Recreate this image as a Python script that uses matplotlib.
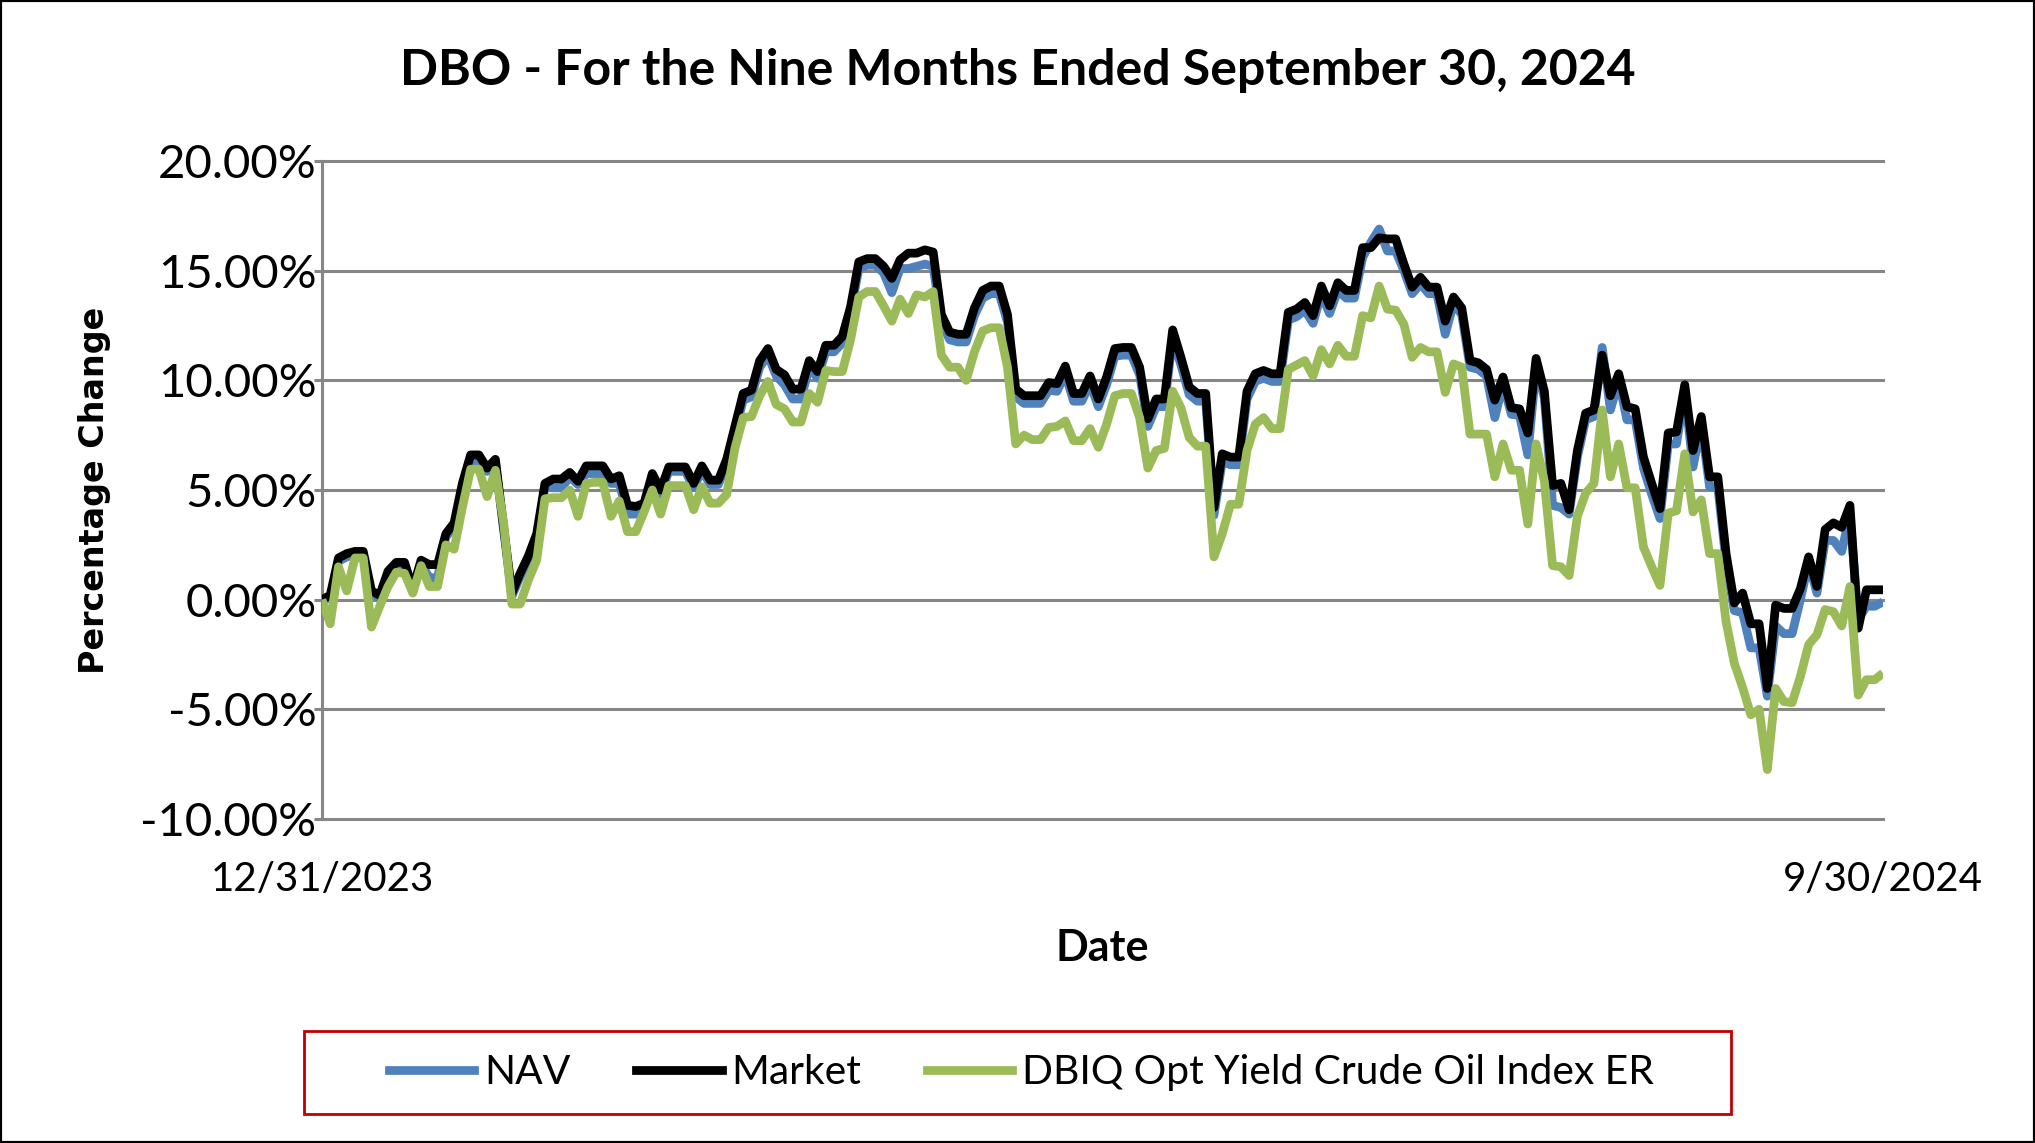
import matplotlib.pyplot as plt
import numpy as np
from matplotlib.patches import Rectangle
from matplotlib.lines import Line2D
from matplotlib.ticker import FuncFormatter

# Percentage change since 12/31/2023, one value per trading day
nav = [0.0, 0.05, 1.75, 1.95, 2.05, 2.05, 0.25, 0.05, 1.15, 1.5,
       1.5, 0.35, 1.65, 1.0, 1.0, 2.85, 3.35, 5.15, 6.25, 6.25,
       5.85, 6.25, 3.15, 0.15, 1.05, 1.85, 2.85, 5.15, 5.1, 5.1,
       5.6, 5.25, 5.75, 5.75, 5.75, 5.3, 5.3, 3.9, 3.9, 4.2,
       5.55, 4.8, 5.85, 5.85, 5.85, 5.1, 5.9, 5.25, 5.25, 6.2,
       7.6, 9.1, 9.25, 10.6, 11.15, 10.2, 9.8, 9.15, 9.15, 10.6,
       10.1, 11.3, 11.3, 11.7, 13.05, 15.1, 15.25, 15.25, 14.9, 14.0,
       15.1, 15.1, 15.2, 15.3, 15.2, 12.65, 11.85, 11.75, 11.75, 12.95,
       13.75, 13.95, 13.95, 12.65, 9.25, 8.95, 8.95, 8.95, 9.55, 9.5,
       10.3, 9.05, 9.05, 9.85, 8.8, 9.8, 11.1, 11.15, 11.15, 10.25,
       7.9, 8.8, 8.8, 11.95, 10.7, 9.35, 9.05, 9.05, 3.85, 6.3,
       6.15, 6.15, 9.15, 9.95, 10.1, 9.95, 9.95, 12.75, 12.9, 13.2,
       12.6, 13.95, 13.05, 14.1, 13.75, 13.75, 15.6, 16.3, 16.9, 15.9,
       15.9, 15.0, 13.95, 14.4, 13.95, 13.95, 12.1, 13.5, 13.0, 10.6,
       10.5, 10.2, 8.3, 9.85, 8.45, 8.4, 6.6, 10.6, 9.2, 4.3,
       4.2, 3.9, 6.5, 8.2, 8.35, 11.5, 8.65, 10.0, 8.2, 8.2,
       6.0, 4.8, 3.7, 7.1, 7.1, 9.5, 6.05, 8.0, 5.15, 5.15,
       1.7, -0.5, -0.6, -2.2, -2.2, -4.4, -1.2, -1.55, -1.55, 0.0,
       1.7, 0.3, 2.7, 2.7, 2.2, 3.9, -0.9, -0.3, -0.3, -0.1]

market = [0.0, 0.2, 1.9, 2.1, 2.2, 2.2, 0.4, 0.2, 1.3, 1.7,
          1.7, 0.5, 1.8, 1.6, 1.6, 3.0, 3.5, 5.3, 6.6, 6.6,
          6.0, 6.4, 3.3, 0.3, 1.2, 2.0, 3.0, 5.3, 5.5, 5.5,
          5.8, 5.4, 6.1, 6.1, 6.1, 5.5, 5.65, 4.3, 4.25, 4.4,
          5.75, 5.0, 6.05, 6.05, 6.05, 5.3, 6.1, 5.45, 5.45, 6.4,
          7.9, 9.4, 9.55, 10.9, 11.45, 10.5, 10.25, 9.6, 9.6, 10.9,
          10.4, 11.6, 11.6, 12.0, 13.35, 15.4, 15.55, 15.55, 15.2, 14.65,
          15.5, 15.8, 15.8, 15.95, 15.85, 13.0, 12.2, 12.1, 12.1, 13.3,
          14.1, 14.3, 14.3, 13.0, 9.6, 9.3, 9.3, 9.3, 9.9, 9.85,
          10.65, 9.4, 9.4, 10.2, 9.15, 10.15, 11.45, 11.5, 11.5, 10.6,
          8.25, 9.15, 9.15, 12.3, 11.05, 9.7, 9.4, 9.4, 4.2, 6.65,
          6.5, 6.5, 9.5, 10.3, 10.45, 10.3, 10.3, 13.1, 13.25, 13.55,
          12.95, 14.3, 13.4, 14.45, 14.1, 14.1, 16.05, 16.05, 16.5, 16.45,
          16.45, 15.3, 14.25, 14.7, 14.25, 14.25, 12.7, 13.8, 13.3, 10.9,
          10.8, 10.5, 9.1, 10.15, 8.75, 8.7, 7.6, 11.0, 9.5, 5.2,
          5.3, 4.1, 6.8, 8.5, 8.65, 11.15, 9.3, 10.3, 8.8, 8.7,
          6.5, 5.3, 4.15, 7.6, 7.65, 9.8, 6.8, 8.35, 5.6, 5.6,
          2.1, -0.15, 0.3, -1.1, -1.1, -4.05, -0.25, -0.4, -0.4, 0.5,
          1.95, 0.6, 3.2, 3.5, 3.3, 4.3, -1.3, 0.45, 0.45, 0.45]

index_er = [0.0, -1.1, 1.5, 0.4, 1.9, 1.9, -1.25, -0.3, 0.6, 1.25,
            1.2, 0.3, 1.55, 0.6, 0.6, 2.5, 2.3, 4.2, 5.95, 5.95,
            4.7, 5.9, 3.5, -0.2, -0.2, 0.9, 1.8, 4.6, 4.65, 4.65,
            5.0, 3.8, 5.3, 5.35, 5.35, 3.8, 4.5, 3.1, 3.1, 4.0,
            5.0, 3.9, 5.2, 5.2, 5.2, 4.1, 5.15, 4.4, 4.4, 4.8,
            6.9, 8.3, 8.35, 9.3, 9.95, 8.9, 8.7, 8.1, 8.1, 9.4,
            9.0, 10.45, 10.4, 10.4, 11.85, 13.8, 14.05, 14.05, 13.4, 12.7,
            13.7, 13.05, 13.9, 13.8, 14.05, 11.15, 10.6, 10.6, 10.0, 11.3,
            12.25, 12.4, 12.4, 10.6, 7.1, 7.5, 7.3, 7.3, 7.85, 7.9,
            8.15, 7.25, 7.25, 7.8, 6.95, 8.0, 9.3, 9.4, 9.4, 8.3,
            6.0, 6.8, 6.9, 9.5, 8.75, 7.4, 7.0, 7.0, 1.95, 3.0,
            4.35, 4.35, 6.8, 8.0, 8.3, 7.8, 7.8, 10.5, 10.7, 10.9,
            10.2, 11.4, 10.75, 11.6, 11.1, 11.1, 12.95, 12.85, 14.3, 13.25,
            13.2, 12.55, 11.05, 11.5, 11.3, 11.3, 9.45, 10.75, 10.6, 7.55,
            7.55, 7.55, 5.6, 7.1, 5.9, 5.9, 3.45, 7.1, 5.4, 1.55,
            1.5, 1.1, 3.8, 4.85, 5.3, 8.65, 5.6, 7.1, 5.1, 5.1,
            2.4, 1.5, 0.65, 3.95, 4.05, 6.65, 4.0, 4.55, 2.1, 2.1,
            -1.0, -2.9, -4.0, -5.25, -5.0, -7.75, -4.05, -4.65, -4.7, -3.5,
            -2.05, -1.6, -0.45, -0.55, -1.2, 0.6, -4.35, -3.65, -3.65, -3.35]

series_names = ['NAV', 'Market', 'DBIQ Opt Yield Crude Oil Index ER']
series_colors = ['#4F81BD', '#000000', '#9BBB59']
date_labels = ['12/31/2023', '9/30/2024']
y_ticks = [-10, -5, 0, 5, 10, 15, 20]

plt.rcParams['font.family'] = ['Lato', 'DejaVu Sans']
grid_color = '#868686'

fig = plt.figure(figsize=(20.35, 11.43), dpi=100)
ax = fig.add_axes([0.1582, 0.2835, 0.7671, 0.5756])

x = np.arange(len(market))
for z, (vals, name, col) in enumerate(zip([nav, market, index_er], series_names, series_colors)):
    ax.plot(x, vals, color=col, lw=6.3, label=name, zorder=3 + z,
            solid_joinstyle='round', solid_capstyle='butt')

ax.set_xlim(0, len(market) - 1)
ax.set_ylim(-10, 20)
ax.set_yticks(y_ticks)
ax.yaxis.set_major_formatter(FuncFormatter(lambda v, p: f'{v:.2f}%'))
ax.set_xticks([0, len(market) - 1])
ax.set_xticklabels(date_labels)

ax.grid(axis='y', color=grid_color, lw=2.2, zorder=1)
for gl in ax.get_ygridlines():
    gl.set_clip_on(False)
for s in ['top', 'right', 'bottom']:
    ax.spines[s].set_visible(False)
ax.spines['left'].set_color(grid_color)
ax.spines['left'].set_linewidth(2.2)
ax.tick_params(axis='y', direction='out', length=6, width=2.2, color=grid_color,
               labelsize=34, pad=-2)
ax.tick_params(axis='x', length=0, labelsize=29, pad=30)

fig.text(0.5, 0.938, 'DBO - For the Nine Months Ended September 30, 2024',
         ha='center', va='center', fontsize=36, fontweight='bold')
fig.text(0.0462, 0.571, 'Percentage Change', rotation=90, ha='center', va='center',
         fontsize=24, fontweight='bold', family='DejaVu Sans')
fig.text(0.5418, 0.1706, 'Date', ha='center', va='center', fontsize=31, fontweight='bold')

# legend box
fig.patches.append(Rectangle((0.1494, 0.0254), 0.7010, 0.0726, transform=fig.transFigure,
                             fill=False, edgecolor='#C00000', lw=2))
handles = [Line2D([], [], color=c, lw=6.3) for c in series_colors]
fig.legend(handles, series_names, loc='center', bbox_to_anchor=(0.502, 0.0617), ncol=3,
           frameon=False, fontsize=29.3, handlelength=2.1, handletextpad=0.25,
           columnspacing=1.6)

# outer chart border
fig.patches.append(Rectangle((0, 0), 1, 1, transform=fig.transFigure, fill=False,
                             edgecolor='black', lw=3))

fig.savefig('out.png', dpi=100)
